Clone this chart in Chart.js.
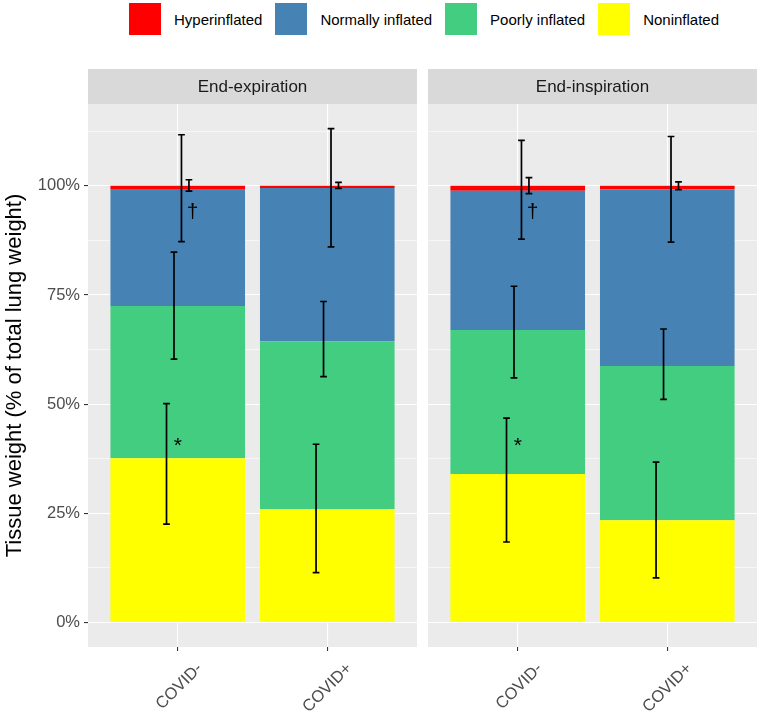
<!DOCTYPE html>
<html>
<head>
<meta charset="utf-8">
<script src="https://cdn.jsdelivr.net/npm/chart.js@4.4.0/dist/chart.umd.min.js"></script>
<style>
body { margin:0; background:#fff; width:758px; height:715px; position:relative; overflow:hidden;
       font-family:"Liberation Sans", Arial, sans-serif; }
#legend { position:absolute; left:129px; top:3px; height:32px; display:flex; align-items:center; font-size:15px; color:#000; }
#legend .key { width:32px; height:32px; margin-right:13px; }
#legend .lab { margin-right:13px; }
canvas { position:absolute; top:69px; }
#cExp { left:0; }
#cInsp { left:428px; }
</style>
</head>
<body>
<div id="legend"></div>
<canvas id="cExp" width="417" height="646"></canvas>
<canvas id="cInsp" width="329" height="646"></canvas>
<script>
// categories / labels
const groups = ["COVID-", "COVID+"];
const facets = ["End-expiration", "End-inspiration"];
const tissues = ["Noninflated", "Poorly inflated", "Normally inflated", "Hyperinflated"];
const legendOrder = ["Hyperinflated", "Normally inflated", "Poorly inflated", "Noninflated"];
const tissueColors = ["#FFFF00", "#43CD80", "#4682B4", "#FF0000"];

// % of total lung weight, per tissue class (COVID-, COVID+)
const expNoninflated = [37.6, 25.9];
const expPoorly      = [34.9, 38.5];
const expNormally    = [26.8, 35.1];
const expHyper       = [0.7, 0.5];
const inspNoninflated = [34.0, 23.4];
const inspPoorly      = [33.0, 35.3];
const inspNormally    = [31.9, 40.5];
const inspHyper       = [1.1, 0.8];

// error bars (cumulative %), rows = groups, cols = tissues (non, poorly, normally, hyper)
const expErrLow   = [[22.5, 60.3, 87.2, 98.8], [11.4, 56.3, 86.0, 99.4]];
const expErrHigh  = [[50.1, 84.8, 111.7, 101.4], [40.8, 73.5, 113.1, 100.8]];
const inspErrLow  = [[18.4, 56.0, 87.8, 98.2], [10.2, 51.1, 87.1, 99.1]];
const inspErrHigh = [[46.8, 77.0, 110.4, 101.9], [36.7, 67.2, 111.3, 100.9]];

// significance marks (same in both panels)
const markText  = ["*", "\u2020"];
const markGroup = [0, 0];
const markY     = [40.3, 94.0];

const yTickVals = [0, 12.5, 25, 37.5, 50, 62.5, 75, 87.5, 100, 112.5];

// legend
const leg = document.getElementById("legend");
legendOrder.forEach(name => {
    const k = document.createElement("div");
    k.className = "key";
    k.style.background = tissueColors[tissues.indexOf(name)];
    const l = document.createElement("div");
    l.className = "lab";
    l.textContent = name;
    leg.appendChild(k); leg.appendChild(l);
});

const FONT = '"Liberation Sans", Arial, sans-serif';
const dodge = [-0.075, -0.025, 0.025, 0.075];
const capW = 0.045;

// grey panel + facet strip
const panelPlugin = {
    id: "panel",
    beforeDraw(chart, args, opts) {
        const { ctx, chartArea: a } = chart;
        ctx.save();
        ctx.fillStyle = "#EBEBEB";
        ctx.fillRect(a.left, a.top, a.right - a.left, a.bottom - a.top);
        ctx.fillStyle = "#D9D9D9";
        ctx.fillRect(a.left, 0, a.right - a.left, a.top);
        ctx.fillStyle = "#1A1A1A";
        ctx.font = "17px " + FONT;
        ctx.textAlign = "center";
        ctx.textBaseline = "middle";
        ctx.fillText(opts.title, (a.left + a.right) / 2, a.top / 2 + 1);
        ctx.restore();
    }
};

// error bars and marks
const errPlugin = {
    id: "errbars",
    afterDatasetsDraw(chart, args, opts) {
        const { ctx } = chart;
        const xs = chart.scales.x, ys = chart.scales.y;
        ctx.save();
        ctx.strokeStyle = "#000";
        ctx.lineWidth = 1.7;
        opts.low.forEach((row, g) => {
            row.forEach((lo, k) => {
                const hi = opts.high[g][k];
                const xv = g + 1 + dodge[k];
                const x = xs.getPixelForValue(xv);
                const x0 = xs.getPixelForValue(xv - capW / 2);
                const x1 = xs.getPixelForValue(xv + capW / 2);
                const y0 = ys.getPixelForValue(lo), y1 = ys.getPixelForValue(hi);
                ctx.beginPath();
                ctx.moveTo(x, y0); ctx.lineTo(x, y1);
                ctx.moveTo(x0, y0); ctx.lineTo(x1, y0);
                ctx.moveTo(x0, y1); ctx.lineTo(x1, y1);
                ctx.stroke();
            });
        });
        ctx.fillStyle = "#000";
        ctx.font = "21px " + FONT;
        ctx.textAlign = "center";
        ctx.textBaseline = "middle";
        markText.forEach((t, i) => {
            const dx = i === 0 ? 0 : 0.1;
            ctx.fillText(t, xs.getPixelForValue(markGroup[i] + 1 + dx), ys.getPixelForValue(markY[i]));
        });
        ctx.restore();
    }
};

function makeChart(id, facet, series, low, high, showY) {
    const datasets = series.map((vals, k) => ({
        label: tissues[k],
        data: vals.map((v, g) => ({ x: g + 1, y: v })),
        backgroundColor: tissueColors[k],
        borderWidth: 0,
        categoryPercentage: 0.9,
        barPercentage: 1.0
    }));
    return new Chart(document.getElementById(id), {
        type: "bar",
        data: { datasets },
        plugins: [panelPlugin, errPlugin],
        options: {
            responsive: false,
            animation: false,
            layout: { padding: { top: 35, left: 0, right: 0, bottom: 0 } },
            plugins: {
                legend: { display: false },
                tooltip: { enabled: false },
                panel: { title: facet },
                errbars: { low, high }
            },
            scales: {
                x: {
                    type: "linear",
                    stacked: true,
                    min: 0.4, max: 2.6,
                    offset: false,
                    afterBuildTicks: s => { s.ticks = groups.map((g, i) => ({ value: i + 1 })); },
                    afterFit: s => { s.height = 68; },
                    border: { display: false },
                    grid: { offset: false, color: "#FFFFFF", lineWidth: 1.1, tickColor: "#333333", tickLength: 4, tickWidth: 1.1 },
                    ticks: {
                        autoSkip: false, minRotation: 45, maxRotation: 45, padding: 8, labelOffset: 22,
                        color: "#4D4D4D", font: { size: 16.5, family: FONT },
                        callback: v => groups[v - 1]
                    }
                },
                y: {
                    stacked: true,
                    min: -5.65, max: 118.75,
                    afterBuildTicks: s => { s.ticks = yTickVals.map(v => ({ value: v })); },
                    afterFit: s => { s.width = showY ? 88 : 0; },
                    border: { display: false },
                    title: {
                        display: showY, text: "Tissue weight (% of total lung weight)",
                        color: "#000", font: { size: 22, family: FONT }, padding: { top: 2, bottom: 4 }
                    },
                    grid: {
                        color: "#FFFFFF",
                        lineWidth: c => (c.tick && c.tick.value % 25 === 0) ? 1.1 : 0.55,
                        tickColor: c => (showY && c.tick && c.tick.value % 25 === 0) ? "#333333" : "rgba(0,0,0,0)",
                        tickWidth: 1.1,
                        tickLength: showY ? 4 : 0,
                        drawTicks: showY
                    },
                    ticks: {
                        display: showY, padding: 4, color: "#4D4D4D", font: { size: 16.5, family: FONT },
                        callback: v => (v % 25 === 0 ? v + "%" : "")
                    }
                }
            }
        }
    });
}

makeChart("cExp", facets[0], [expNoninflated, expPoorly, expNormally, expHyper], expErrLow, expErrHigh, true);
makeChart("cInsp", facets[1], [inspNoninflated, inspPoorly, inspNormally, inspHyper], inspErrLow, inspErrHigh, false);
</script>
</body>
</html>
